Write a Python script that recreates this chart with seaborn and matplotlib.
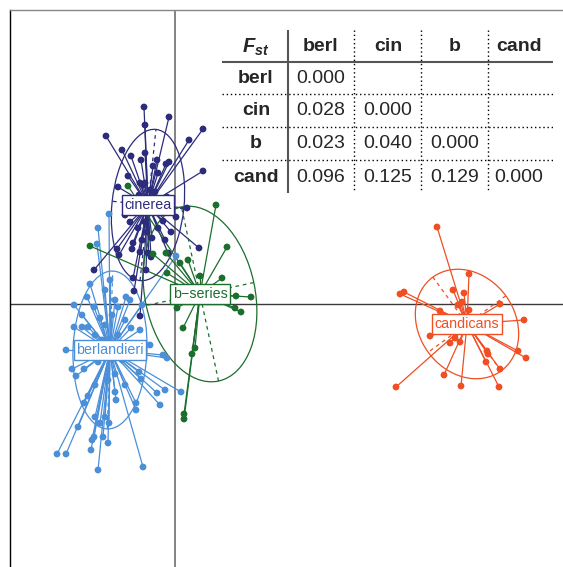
import numpy as np
import pandas as pd
import matplotlib
matplotlib.use("Agg")
import matplotlib.pyplot as plt
from matplotlib.patches import Ellipse
from matplotlib.collections import LineCollection
import seaborn as sns

# ---- data: discriminant scores per individual (arbitrary units) ----
groups = ["berlandieri", "cinerea", "b\u2212series", "candicans"]
colors = ["#4a8fd8", "#2b2c7c", "#1b6e2e", "#f04e23"]

cin_x = [-31, -6, -30, 28, -69, 14, -53, -44, -30, -34, -18, -9, -6, -22, 28, -17, -47, -35, -30, -32,
         -57, -8, 12, 1, -45, -12, -28, 24, -42, -58, -56, -4, -24, -81, -42, -41, -35, -7,
         -25, -20, -36, -15, -40, -50, -17, -33, -23, -10, -37, -35, -30, -43, -27, -29]
cin_y = [197, 187, 179, 175, 168, 164, 154, 148, 151, 144, 144, 140, 142, 138, 133, 131, 128, 121, 121, 119,
         117, 107, 96, 87, 82, 83, 72, 56, 61, 55, 49, 72, 47, 34, 26, 13, -12, 51,
         114, 112, 109, 104, 92, 89, 76, 64, 66, 64, 76, 52, 82, 55, 51, 34]

ber_x = [-66, -77, -78, 1, -85, -65, -101, -88, -81, -57, -49, -33, -50, -87, -101, -93, -44, -35, -109, -12,
         -8, -103, -99, -91, -60, -36, -34, -18, -10, 6, -15, -39, -39, -87, -91, -59, -80, -97, -70, -66,
         -75, -81, -83, -84, -72, -67, -118, -109, -32, -77,
         -75, -70, -63, -57, -80, -73, -55, -53, -77, -67, -50, -60, -80, -45, -70, -60, -93, -25]
ber_y = [90, 76, 60, 48, 20, 24, -1, 7, -3, -3, 7, -1, -16, -23, -23, -23, -24, -26, -46, -51,
         -54, -65, -72, -65, -70, -68, -75, -89, -86, -88, -101, -99, -106, -92, -99, -96, -113, -123, -113, -119,
         -119, -133, -136, -146, -133, -139, -150, -150, -163, -166,
         -14, -21, -11, -31, -31, -36, -41, -56, -58, -76, -81, -88, -81, 4, 14, 4, -11, -41]

bs_x = [-47, 41, -85, 52, -22, 13, 5, 25, 47, -8, 61, 76, 60, 66, 2, 8, 20, 17, 9, 9, -9]
bs_y = [118, 99, 58, 57, 50, 44, 41, 28, 26, 31, 8, 7, -4, -8, -4, -24, -44, -50, -110, -115, 51]

cand_x = [262, 294, 278, 289, 225, 229, 283, 287, 294, 325, 265, 349, 255, 280, 275, 285, 343, 351, 312, 313,
          311, 325, 269, 286, 324, 221]
cand_y = [77, 30, 14, 11, 10, 12, -1, 2, -6, 0, -7, -16, -32, -34, -39, -38, -47, -54, -47, -50,
          -58, -65, -71, -82, -83, -83]

# group centres and inertia ellipses (semi-axis 1, semi-axis 2, angle of axis 1 in degrees)
cent_x = [-65, -27, 25, 292]
cent_y = [-46, 99, 10, -20]
ell_a = [79, 76, 89, 58]
ell_b = [37, 36, 55, 48]
ell_ang = [88, 84, 102, 126]

# pairwise Fst table
fst_names = ["berl", "cin", "b", "cand"]
fst_vals = [[0.000, None, None, None],
            [0.028, 0.000, None, None],
            [0.023, 0.040, 0.000, None],
            [0.096, 0.125, 0.129, 0.000]]

df = pd.concat([
    pd.DataFrame({"x": ber_x, "y": ber_y, "group": groups[0]}),
    pd.DataFrame({"x": cin_x, "y": cin_y, "group": groups[1]}),
    pd.DataFrame({"x": bs_x, "y": bs_y, "group": groups[2]}),
    pd.DataFrame({"x": cand_x, "y": cand_y, "group": groups[3]}),
], ignore_index=True)

sns.set_theme(style="white")
plt.rcParams["font.family"] = ["Liberation Sans", "DejaVu Sans"]
plt.rcParams["mathtext.fontset"] = "custom"
plt.rcParams["mathtext.it"] = "Liberation Sans:italic:bold"
plt.rcParams["mathtext.rm"] = "Liberation Sans:bold"

W, H = 563, 567
fig = plt.figure(figsize=(W / 100, H / 100), dpi=100)
ax = fig.add_axes([10 / W, 1 - 10 / H - 1.0, 1.0, 1.0])
ax.set_xlim(-165, -165 + W)
ax.set_ylim(294 - H, 294)
for s in ["right", "bottom"]:
    ax.spines[s].set_visible(False)
ax.spines["left"].set_color("black")
ax.spines["top"].set_color("#888888")
for s in ["left", "top"]:
    ax.spines[s].set_linewidth(1.0)
ax.set_xticks([]); ax.set_yticks([])

ax.axvline(0, color="#7a7a7a", lw=1.3, zorder=1)
ax.axhline(0, color="#3a3a3a", lw=1.0, zorder=1)

pal = dict(zip(groups, colors))
for i, g in enumerate(groups):
    sub = df[df.group == g]
    cx, cy = cent_x[i], cent_y[i]
    segs = [[(cx, cy), (px, py)] for px, py in zip(sub.x, sub.y)]
    ax.add_collection(LineCollection(segs, colors=colors[i], linewidths=0.9, zorder=2))
    e = Ellipse((cx, cy), 2 * ell_a[i], 2 * ell_b[i], angle=ell_ang[i],
                fill=False, ec=colors[i], lw=0.9, zorder=2)
    ax.add_patch(e)
    t = np.deg2rad(ell_ang[i])
    for r, d in [(ell_a[i], t), (ell_b[i], t + np.pi / 2)]:
        ax.plot([cx - r * np.cos(d), cx + r * np.cos(d)], [cy - r * np.sin(d), cy + r * np.sin(d)],
                color=colors[i], lw=0.9, ls=(0, (3, 3)), zorder=2)

sns.scatterplot(data=df, x="x", y="y", hue="group", palette=pal, hue_order=groups,
                s=24, linewidth=0, legend=False, ax=ax, zorder=3)
ax.set_xlabel(""); ax.set_ylabel("")

for i, g in enumerate(groups):
    ax.text(cent_x[i], cent_y[i], g, color=colors[i], fontsize=10.3, ha="center", va="center", zorder=5,
            bbox=dict(boxstyle="square,pad=0.18", fc="white", ec=colors[i], lw=1.0))

# ---- Fst table (pixel layout inset) ----
tx0, tx1, ty0, ty1 = 222, 553, 30, 193
tax = fig.add_axes([tx0 / W, 1 - ty1 / H, (tx1 - tx0) / W, (ty1 - ty0) / H])
tax.set_xlim(tx0, tx1); tax.set_ylim(ty1, ty0); tax.axis("off")
col_x = [256, 321, 388, 455, 519]
row_y = [47, 79, 111, 144, 177]
tax.plot([288, 288], [ty0, ty1], color="#555555", lw=1.5)
tax.plot([tx0, tx1], [62, 62], color="#555555", lw=1.5)
for xv in [354, 421, 488]:
    tax.plot([xv, xv], [ty0, ty1], color="black", lw=1.0, ls=(0, (1, 2)))
for yv in [94, 127, 160]:
    tax.plot([tx0, tx1], [yv, yv], color="black", lw=1.0, ls=(0, (1, 2)))
tax.text(col_x[0], row_y[0], r"$F_{st}$", fontsize=14.5, ha="center", va="center")
for j, n in enumerate(fst_names):
    tax.text(col_x[j + 1], row_y[0], n, fontsize=14, fontweight="bold", ha="center", va="center")
    tax.text(col_x[0], row_y[j + 1], n, fontsize=14, fontweight="bold", ha="center", va="center")
    for k, v in enumerate(fst_vals[j]):
        if v is not None:
            tax.text(col_x[k + 1], row_y[j + 1], f"{v:.3f}", fontsize=14, ha="center", va="center")

fig.savefig("out.png", dpi=100)
